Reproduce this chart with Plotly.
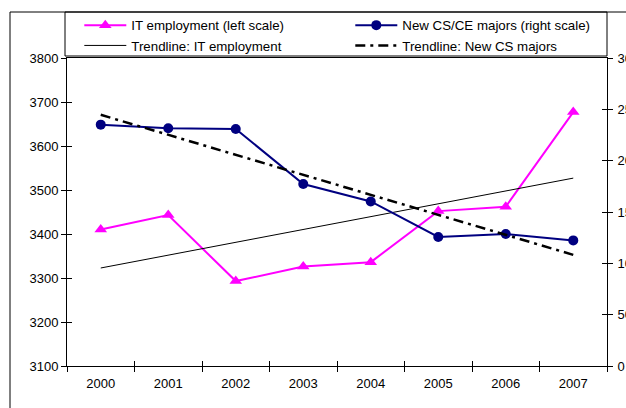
import numpy as np
import plotly.graph_objects as go

# ---- data ----
years = [2000, 2001, 2002, 2003, 2004, 2005, 2006, 2007]
it_employment = [3410, 3443, 3293, 3326, 3336, 3452, 3462, 3677]
cs_majors = [23510, 23157, 23088, 17725, 16030, 12568, 12863, 12235]
left_ticks = [3100, 3200, 3300, 3400, 3500, 3600, 3700, 3800]
right_ticks = [0, 5000, 10000, 15000, 20000, 25000, 30000]
right_labels = ["0", "5000", "10000", "15000", "20000", "25000", "30000"]

# linear trendlines (least squares fit of the series above)
xi = np.arange(len(years))
it_fit = np.polyval(np.polyfit(xi, it_employment, 1), xi)
cs_fit = np.polyval(np.polyfit(xi, cs_majors, 1), xi)

FONT = "Liberation Sans, Arial, sans-serif"
W, H = 626, 408
ML, MR, MT, MB = 67, 19, 58, 42
PW, PH = W - ML - MR, H - MT - MB

def px_x(p):
    return (p - ML) / PW

def px_y(p):
    return (H - MB - p) / PH

fig = go.Figure()

fig.add_trace(go.Scatter(
    x=years, y=it_employment, name="IT employment (left scale)",
    mode="lines+markers", line=dict(color="#FF00FF", width=2),
    marker=dict(symbol="triangle-up", size=11, color="#FF00FF"),
    xaxis="x", yaxis="y"))
fig.add_trace(go.Scatter(
    x=years, y=cs_majors, name="New CS/CE majors (right scale)",
    mode="lines+markers", line=dict(color="#000080", width=2),
    marker=dict(symbol="circle", size=10, color="#000080"),
    xaxis="x", yaxis="y2"))
fig.add_trace(go.Scatter(
    x=years, y=it_fit, name="Trendline: IT employment",
    mode="lines", line=dict(color="black", width=1),
    xaxis="x", yaxis="y"))
fig.add_trace(go.Scatter(
    x=years, y=cs_fit, name="Trendline: New CS majors",
    mode="lines", line=dict(color="black", width=2.5, dash="10px,5px,3px,5px"),
    xaxis="x", yaxis="y2"))

# helper empty traces so the tick-overlay axes are drawn
for xa, ya in [("x2", "y"), ("x3", "y"), ("x", "y3"), ("x", "y4")]:
    fig.add_trace(go.Scatter(x=[None], y=[None], xaxis=xa, yaxis=ya,
                             showlegend=False, hoverinfo="skip", mode="lines"))

xr = [years[0] - 0.5, years[-1] + 0.5]
bounds = [y - 0.5 for y in years] + [years[-1] + 0.5]
tickfont = dict(family=FONT, size=13, color="black")

common_x = dict(range=xr, showgrid=False, zeroline=False, automargin=False)
fig.update_layout(
    width=W, height=H,
    margin=dict(l=ML, r=MR, t=MT, b=MB, pad=0, autoexpand=False),
    paper_bgcolor="white", plot_bgcolor="white",
    font=dict(family=FONT, size=12, color="black"),
    showlegend=True,
    xaxis=dict(**common_x, tickmode="array", tickvals=years,
               ticktext=[str(y) for y in years], ticks="outside", ticklen=5,
               tickcolor="rgba(0,0,0,0)", tickfont=tickfont,
               showline=True, linecolor="black", linewidth=1, mirror=True,
               anchor="y"),
    xaxis2=dict(**common_x, overlaying="x", anchor="y", tickmode="array",
                tickvals=bounds, ticks="outside", ticklen=5, tickcolor="black",
                showticklabels=False, showline=False),
    xaxis3=dict(**common_x, overlaying="x", anchor="y", tickmode="array",
                tickvals=bounds, ticks="inside", ticklen=5, tickcolor="black",
                showticklabels=False, showline=False),
    yaxis=dict(range=[left_ticks[0], left_ticks[-1]], tickmode="array",
               tickvals=left_ticks, ticks="outside", ticklen=5,
               tickcolor="black", tickfont=tickfont, showgrid=False,
               zeroline=False, showline=True, linecolor="black", linewidth=1,
               anchor="x", automargin=False),
    yaxis3=dict(range=[left_ticks[0], left_ticks[-1]], tickmode="array",
                tickvals=left_ticks, ticks="inside", ticklen=5,
                tickcolor="black", showticklabels=False, showgrid=False,
                zeroline=False, overlaying="y", side="left", anchor="x",
                automargin=False),
    yaxis2=dict(range=[right_ticks[0], right_ticks[-1]], tickmode="array",
                tickvals=right_ticks, ticktext=right_labels, ticks="outside",
                ticklen=5, tickcolor="black", tickfont=tickfont,
                ticklabelstandoff=2,
                showgrid=False, zeroline=False, showline=True,
                linecolor="black", linewidth=1, overlaying="y", side="right",
                anchor="x", automargin=False),
    yaxis4=dict(range=[right_ticks[0], right_ticks[-1]], tickmode="array",
                tickvals=right_ticks, ticks="inside", ticklen=5,
                tickcolor="black", showticklabels=False, showgrid=False,
                zeroline=False, overlaying="y", side="right", anchor="x",
                automargin=False),
    legend=dict(orientation="h", x=px_x(79.3), xanchor="left",
                y=px_y(10), yanchor="top", bgcolor="rgba(0,0,0,0)",
                borderwidth=0, entrywidth=214, entrywidthmode="pixels",
                itemwidth=42, font=dict(family=FONT, size=13.3, color="black"),
                traceorder="normal"),
    shapes=[
        # outer chart frame (extends beyond the visible page)
        dict(type="rect", xref="paper", yref="paper",
             x0=px_x(10), x1=px_x(W + 50), y0=px_y(H + 50), y1=px_y(12),
             line=dict(color="black", width=1)),
        # legend box
        dict(type="rect", xref="paper", yref="paper",
             x0=px_x(65), x1=px_x(607), y0=px_y(56), y1=px_y(12),
             line=dict(color="black", width=1)),
    ],
)

fig.write_html("out.html")
